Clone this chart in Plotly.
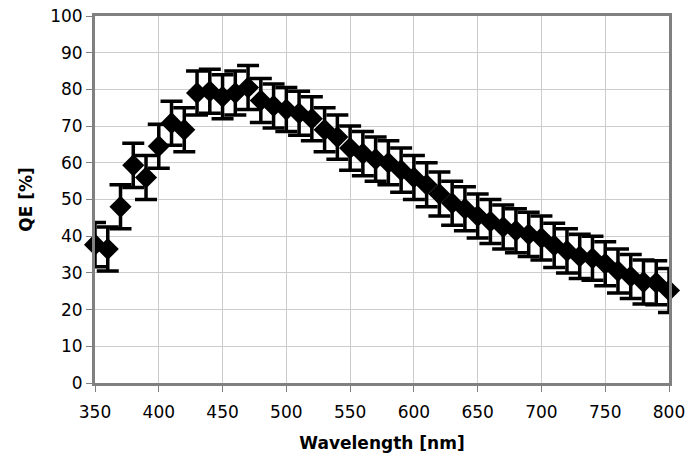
import plotly.graph_objects as go

wavelength = [350, 360, 370, 380, 390, 400, 410, 420, 430, 440, 450, 460, 470, 480, 490,
              500, 510, 520, 530, 540, 550, 560, 570, 580, 590, 600, 610, 620, 630, 640,
              650, 660, 670, 680, 690, 700, 710, 720, 730, 740, 750, 760, 770, 780, 790, 800]
qe = [37.7, 36.5, 48.0, 59.3, 56.0, 64.5, 70.8, 69.0, 79.0, 79.5, 78.0, 79.0, 80.5, 77.0, 75.5,
      74.5, 73.5, 72.0, 69.0, 67.0, 64.0, 62.5, 61.0, 60.0, 58.0, 56.0, 54.0, 51.5, 49.0, 47.5,
      45.5, 44.0, 42.5, 41.5, 40.5, 39.5, 37.5, 36.0, 34.5, 34.0, 32.5, 30.5, 29.0, 27.5, 27.3, 25.2]
qe_err = [6.0] * len(qe)

x_ticks = [350, 400, 450, 500, 550, 600, 650, 700, 750, 800]
y_ticks = [0, 10, 20, 30, 40, 50, 60, 70, 80, 90, 100]

fig = go.Figure()
fig.add_trace(go.Scatter(
    x=wavelength, y=qe, mode="markers",
    marker=dict(symbol="diamond", size=17, color="black"),
    error_y=dict(type="data", array=qe_err, visible=True, color="black",
                 thickness=3.5, width=11),
    cliponaxis=False,
    showlegend=False,
))

font_family = "DejaVu Sans, sans-serif"
fig.update_layout(
    width=688, height=468,
    margin=dict(l=95, r=19, t=16, b=85, autoexpand=False),
    paper_bgcolor="white", plot_bgcolor="white",
    font=dict(family=font_family, color="black", size=17),
)
fig.update_xaxes(
    range=[350, 800], tickvals=x_ticks, ticktext=[str(v) for v in x_ticks],
    showgrid=True, gridcolor="#cccccc", gridwidth=1,
    showline=True, linecolor="#808080", linewidth=3, mirror=True,
    ticks="outside", ticklen=6, tickcolor="#808080", tickwidth=1,
    tickfont=dict(size=17), automargin=False, ticklabelstandoff=6,
    title=dict(text="<b>Wavelength [nm]</b>", font=dict(size=17), standoff=16),
    zeroline=False,
)
fig.update_yaxes(
    range=[0, 100], tickvals=y_ticks, ticktext=[str(v) for v in y_ticks],
    showgrid=True, gridcolor="#cccccc", gridwidth=1,
    showline=True, linecolor="#808080", linewidth=3, mirror=True,
    ticks="outside", ticklen=6, tickcolor="#808080", tickwidth=1,
    tickfont=dict(size=17), automargin=False,
    title=dict(text="<b>QE [%]</b>", font=dict(size=17), standoff=14),
    zeroline=False,
)

fig.write_html("out.html")
